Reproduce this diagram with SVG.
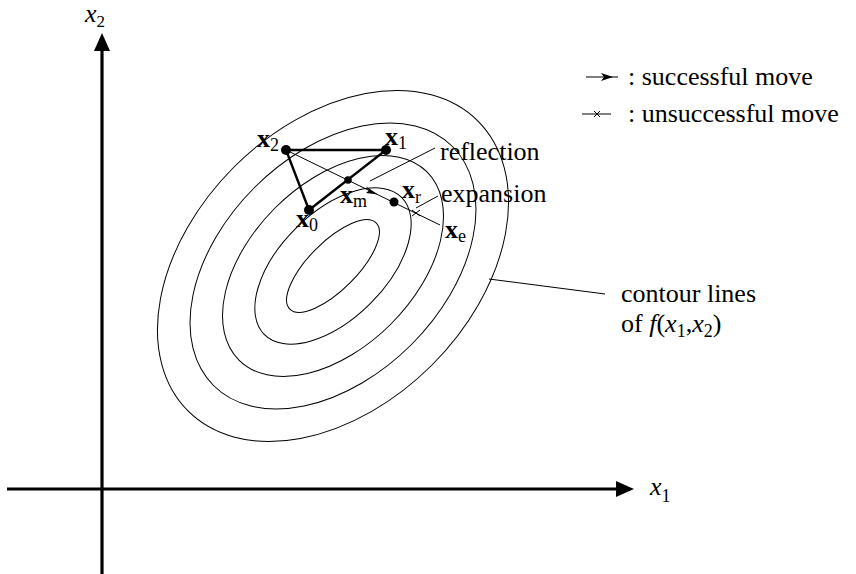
<svg xmlns="http://www.w3.org/2000/svg" width="856" height="574" viewBox="0 0 856 574">
<style>
.t{font-family:"Liberation Serif","Times New Roman",serif;font-size:26px;fill:#000}
.b{font-weight:bold}
.i{font-style:italic}
.thin{fill:none;stroke:#000;stroke-width:1}
.bold{fill:none;stroke:#000;stroke-width:2.4;stroke-linecap:round}
.axis{fill:none;stroke:#000;stroke-width:3.2}
</style>
<rect width="856" height="574" fill="#fff"/>
<g id="axes">
<line class="axis" x1="102" y1="574" x2="102" y2="48"/>
<polygon points="102,33 94,51 110,51" fill="#000"/>
<line class="axis" x1="7" y1="489" x2="619" y2="489"/>
<polygon points="634,489 616,481 616,497" fill="#000"/>
<text class="t i" x="85" y="22" font-size="23">x<tspan dy="5" font-size="17" font-style="normal">2</tspan></text>
<text class="t i" x="650" y="495">x<tspan dy="7" font-size="18" font-style="normal">1</tspan></text>
</g>
<g id="contours" transform="translate(333,266) rotate(-45)">
<ellipse class="thin" rx="61" ry="24"/>
<ellipse class="thin" rx="97" ry="53"/>
<ellipse class="thin" rx="133" ry="82"/>
<ellipse class="thin" rx="169" ry="111"/>
<ellipse class="thin" rx="205" ry="140"/>
</g>
<g id="connectors">
<line class="thin" x1="286" y1="150" x2="440" y2="225"/>
<polygon points="378,194.5 366,193 369,190.5 366,186.5" fill="#000"/>
<path class="thin" d="M412,210 L420,216 M420,210 L412,216"/>
<line class="thin" x1="370" y1="181" x2="435" y2="148"/>
<line class="thin" x1="416" y1="208" x2="438" y2="196"/>
<line class="thin" x1="489" y1="279" x2="605" y2="294"/>
</g>
<g id="simplex">
<polyline class="bold" points="309,210 286,150 386,150 309,210"/>
<circle cx="286" cy="150" r="5"/>
<circle cx="386" cy="150" r="5"/>
<circle cx="309" cy="210" r="5"/>
<circle cx="348" cy="180" r="3.8"/>
<circle cx="394" cy="202" r="4.5"/>
</g>
<g id="labels">
<text class="t b" x="257" y="147">x<tspan dy="4" font-size="18" font-weight="normal">2</tspan></text>
<text class="t b" x="385" y="145">x<tspan dy="4" font-size="18" font-weight="normal">1</tspan></text>
<text class="t b" x="296" y="227">x<tspan dy="4" font-size="18" font-weight="normal">0</tspan></text>
<text class="t b" x="340" y="203">x<tspan dy="4" font-size="18" font-weight="normal">m</tspan></text>
<text class="t b" x="402" y="198">x<tspan dy="5" font-size="18" font-weight="normal">r</tspan></text>
<text class="t b" x="445" y="238">x<tspan dy="4" font-size="18" font-weight="normal">e</tspan></text>
<text class="t" x="440" y="160">reflection</text>
<text class="t" x="441" y="202">expansion</text>
<text class="t" x="621" y="302">contour lines</text>
<text class="t" x="621" y="332">of <tspan font-style="italic">f</tspan>(<tspan font-style="italic">x</tspan><tspan dy="5" font-size="18">1</tspan><tspan dy="-5">,</tspan><tspan font-style="italic">x</tspan><tspan dy="5" font-size="18">2</tspan><tspan dy="-5">)</tspan></text>
</g>
<g id="legend">
<line class="thin" x1="586" y1="77" x2="618" y2="77"/>
<polygon points="613,77 601,73 604,77 601,81" fill="#000"/>
<text class="t" x="628" y="85">: successful move</text>
<line class="thin" x1="582" y1="114" x2="611" y2="114"/>
<path class="thin" d="M594,111 L600,117 M600,111 L594,117"/>
<text class="t" x="628" y="122">: unsuccessful move</text>
</g>
</svg>
